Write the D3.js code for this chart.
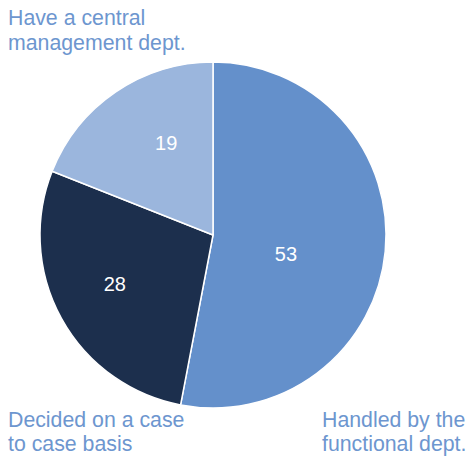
<!DOCTYPE html>
<html>
<head>
<meta charset="utf-8">
<script src="https://cdn.jsdelivr.net/npm/d3@7"></script>
<style>
  html, body { margin: 0; padding: 0; background: #fff; }
  svg { display: block; }
  text { font-family: "Liberation Sans", Arial, Helvetica, sans-serif; }
</style>
</head>
<body>
<svg id="chart" width="476" height="457"></svg>
<script>
// Share of companies by how the function is organised
const categories = ["Handled by the functional dept.", "Decided on a case to case basis", "Have a central management dept."];
const values = [53, 28, 19];
const colors = ["#6490cb", "#1c2f4d", "#9bb6dd"];
const captionLines = [
  ["Handled by the", "functional dept."],
  ["Decided on a case", "to case basis"],
  ["Have a central", "management dept."]
];

const width = 476, height = 457;
const cx = 213, cy = 235, radius = 173;
const svg = d3.select("#chart");

const pie = d3.pie().sort(null).value(d => d.value);
const arcs = pie(values.map((v, i) => ({ value: v, name: categories[i], color: colors[i] })));
const arc = d3.arc().innerRadius(0).outerRadius(radius);

const g = svg.append("g").attr("transform", `translate(${cx},${cy})`);

g.selectAll("path.slice")
  .data(arcs)
  .join("path")
  .attr("class", "slice")
  .attr("d", arc)
  .attr("fill", d => d.data.color)
  .attr("stroke", "#fff")
  .attr("stroke-width", 1.5)
  .attr("stroke-linejoin", "round");

// value labels: fraction of the radius and a small turn past each slice's mid-angle
const labelRadius = [0.435, 0.635, 0.6];
const labelTurn = [9, 2.2, 7.4].map(deg => deg * Math.PI / 180);
g.selectAll("text.value")
  .data(arcs)
  .join("text")
  .attr("class", "value")
  .attr("transform", (d, i) => {
    const r = radius * labelRadius[i];
    const a = (d.startAngle + d.endAngle) / 2 + labelTurn[i];
    return `translate(${r * Math.sin(a)},${-r * Math.cos(a)})`;
  })
  .attr("text-anchor", "middle")
  .attr("dy", "0.36em")
  .attr("fill", "#fff")
  .attr("font-size", 20)
  .text(d => d.data.value);

// category captions in the corners
const captionPos = [
  { x: 322, y: 427 },
  { x: 8, y: 427 },
  { x: 8, y: 25 }
];
const lineGap = [24, 24, 25];
const caption = svg.selectAll("text.caption")
  .data(captionLines)
  .join("text")
  .attr("class", "caption")
  .attr("x", (d, i) => captionPos[i].x)
  .attr("y", (d, i) => captionPos[i].y)
  .attr("fill", "#6d96cf")
  .attr("font-size", 21.3);

caption.selectAll("tspan")
  .data((d, i) => d.map(t => ({ t, x: captionPos[i].x, gap: lineGap[i] })))
  .join("tspan")
  .attr("x", d => d.x)
  .attr("dy", (d, j) => j === 0 ? 0 : d.gap)
  .text(d => d.t);
</script>
</body>
</html>
